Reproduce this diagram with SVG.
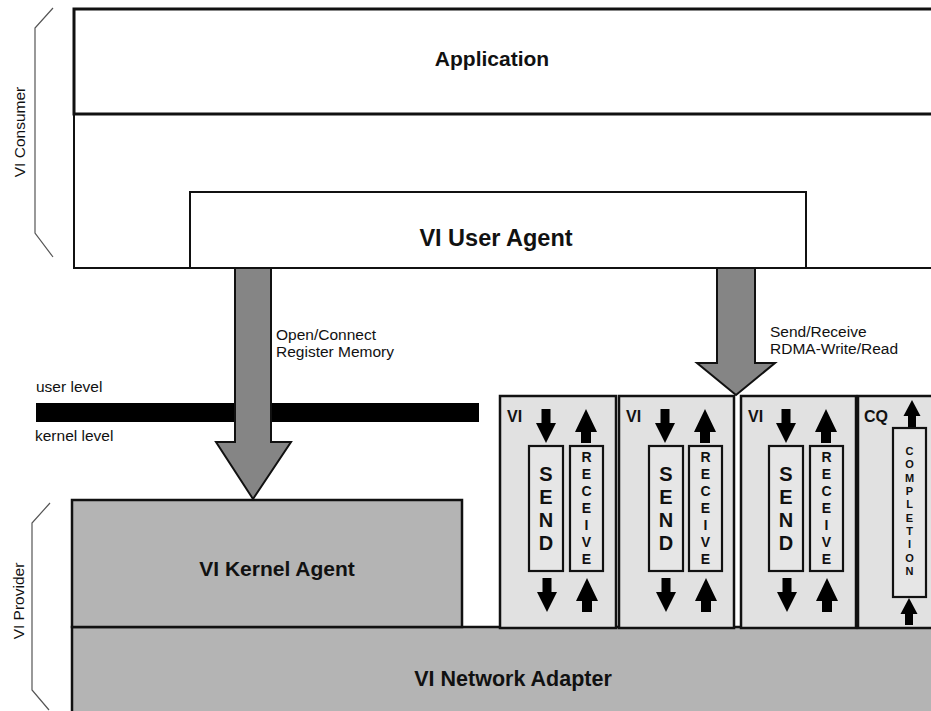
<svg xmlns="http://www.w3.org/2000/svg" width="931" height="711" viewBox="0 0 931 711">
  <style>
    .bold { font-family: "Liberation Sans", Arial, Helvetica, sans-serif; font-weight: bold; fill: #111; }
    .plain { font-family: "Liberation Sans", Arial, Helvetica, sans-serif; fill: #111; font-size: 15.5px; }
    .title { font-size: 21px; text-anchor: middle; }
    .frame { fill: #fff; stroke: #111; stroke-width: 2; }
    .gray { fill: #b4b4b4; stroke: #111; stroke-width: 2.5; }
    .vibox { fill: #e1e1e1; stroke: #111; stroke-width: 2.5; }
    .queue { fill: #e6e6e6; stroke: #111; stroke-width: 2.2; }
    .big-arrow { fill: #858585; stroke: #111; stroke-width: 2; stroke-linejoin: miter; }
    .brace { fill: none; stroke: #555; stroke-width: 1.2; }
    .q-send { font-size: 20px; text-anchor: middle; }
    .q-recv { font-size: 14px; text-anchor: middle; }
    .q-comp { font-size: 11px; text-anchor: middle; }
    .tag { font-size: 16px; }
  </style>
  <defs>
    <!-- small solid arrows used inside the VI columns -->
    <path id="arrowDown" d="M-4.5,0 H4.5 V14 H10 L0,34 L-10,14 H-4.5 Z" fill="#000"/>
    <path id="arrowUp" d="M0,0 L11,23 H5 V34 H-5 V23 H-11 Z" fill="#000"/>
    <path id="arrowUpSmall" d="M0,0 L8.5,16 H4 V27 H-4 V16 H-8.5 Z" fill="#000"/>
  </defs>

  <!-- side braces -->
  <g id="consumer-label">
    <polyline class="brace" points="53,8 35,28 35,233 53,257"/>
    <text class="plain" transform="translate(25,132) rotate(-90)" text-anchor="middle">VI Consumer</text>
  </g>
  <g id="provider-label">
    <polyline class="brace" points="50,503 32,523 32,690 49,710"/>
    <text class="plain" transform="translate(24,601) rotate(-90)" text-anchor="middle">VI Provider</text>
  </g>

  <!-- consumer area -->
  <g id="consumer">
    <rect class="frame" x="74" y="114" width="880" height="154"/>
  </g>
  <g id="application">
    <rect x="74" y="9" width="880" height="105" fill="#fff" stroke="#111" stroke-width="3"/>
    <text class="bold title" x="492" y="66">Application</text>
  </g>
  <g id="user-agent">
    <rect class="frame" x="190" y="192" width="616" height="76"/>
    <text class="bold title" x="496" y="246" style="font-size:23.5px">VI User Agent</text>
  </g>

  <!-- privilege boundary -->
  <g id="boundary">
    <rect x="36" y="403" width="443" height="19" fill="#000"/>
    <text class="plain" x="36" y="392">user level</text>
    <text class="plain" x="35" y="441">kernel level</text>
  </g>

  <!-- provider area -->
  <g id="network-adapter">
    <rect class="gray" x="72" y="627" width="880" height="100"/>
    <text class="bold title" x="513" y="686" style="font-size:21.5px">VI Network Adapter</text>
  </g>
  <g id="kernel-agent">
    <rect class="gray" x="72" y="500" width="390" height="127"/>
    <text class="bold title" x="277" y="576">VI Kernel Agent</text>
  </g>

  <!-- VI endpoints -->
  <g id="vi-1">
    <rect class="vibox" x="500" y="396" width="116" height="232"/>
    <text class="bold tag" x="507" y="422">VI</text>
    <use href="#arrowDown" x="546" y="409"/>
    <use href="#arrowUp" x="586" y="409"/>
    <rect class="queue" x="529" y="446" width="34" height="125"/>
    <text class="bold q-send"><tspan x="546" y="481">S</tspan><tspan x="546" y="504">E</tspan><tspan x="546" y="527">N</tspan><tspan x="546" y="550">D</tspan></text>
    <rect class="queue" x="570" y="446" width="33" height="125"/>
    <text class="bold q-recv"><tspan x="586.5" y="462">R</tspan><tspan x="586.5" y="479">E</tspan><tspan x="586.5" y="496">C</tspan><tspan x="586.5" y="513">E</tspan><tspan x="586.5" y="530">I</tspan><tspan x="586.5" y="547">V</tspan><tspan x="586.5" y="564">E</tspan></text>
    <use href="#arrowDown" x="547" y="578"/>
    <use href="#arrowUp" x="587" y="578"/>
  </g>
  <g id="vi-2">
    <rect class="vibox" x="619" y="396" width="115" height="232"/>
    <text class="bold tag" x="626" y="422">VI</text>
    <use href="#arrowDown" x="665" y="409"/>
    <use href="#arrowUp" x="705" y="409"/>
    <rect class="queue" x="649" y="446" width="34" height="125"/>
    <text class="bold q-send"><tspan x="666" y="481">S</tspan><tspan x="666" y="504">E</tspan><tspan x="666" y="527">N</tspan><tspan x="666" y="550">D</tspan></text>
    <rect class="queue" x="689" y="446" width="33" height="125"/>
    <text class="bold q-recv"><tspan x="705.5" y="462">R</tspan><tspan x="705.5" y="479">E</tspan><tspan x="705.5" y="496">C</tspan><tspan x="705.5" y="513">E</tspan><tspan x="705.5" y="530">I</tspan><tspan x="705.5" y="547">V</tspan><tspan x="705.5" y="564">E</tspan></text>
    <use href="#arrowDown" x="666" y="578"/>
    <use href="#arrowUp" x="706" y="578"/>
  </g>
  <g id="vi-3">
    <rect class="vibox" x="741" y="396" width="115" height="232"/>
    <text class="bold tag" x="748" y="422">VI</text>
    <use href="#arrowDown" x="786" y="409"/>
    <use href="#arrowUp" x="826" y="409"/>
    <rect class="queue" x="769" y="446" width="34" height="125"/>
    <text class="bold q-send"><tspan x="786" y="481">S</tspan><tspan x="786" y="504">E</tspan><tspan x="786" y="527">N</tspan><tspan x="786" y="550">D</tspan></text>
    <rect class="queue" x="810" y="446" width="33" height="125"/>
    <text class="bold q-recv"><tspan x="826.5" y="462">R</tspan><tspan x="826.5" y="479">E</tspan><tspan x="826.5" y="496">C</tspan><tspan x="826.5" y="513">E</tspan><tspan x="826.5" y="530">I</tspan><tspan x="826.5" y="547">V</tspan><tspan x="826.5" y="564">E</tspan></text>
    <use href="#arrowDown" x="787" y="578"/>
    <use href="#arrowUp" x="827" y="578"/>
  </g>

  <!-- completion queue -->
  <g id="cq">
    <rect class="vibox" x="858" y="396" width="90" height="232"/>
    <text class="bold tag" x="864" y="422">CQ</text>
    <use href="#arrowUpSmall" x="912" y="400"/>
    <rect class="queue" x="893" y="428" width="33" height="169"/>
    <text class="bold q-comp"><tspan x="909.5" y="455">C</tspan><tspan x="909.5" y="468">O</tspan><tspan x="909.5" y="482">M</tspan><tspan x="909.5" y="495">P</tspan><tspan x="909.5" y="508">L</tspan><tspan x="909.5" y="522">E</tspan><tspan x="909.5" y="535">T</tspan><tspan x="909.5" y="548">I</tspan><tspan x="909.5" y="562">O</tspan><tspan x="909.5" y="575">N</tspan></text>
    <use href="#arrowUpSmall" x="909" y="598"/>
  </g>

  <!-- connectors between user agent and provider -->
  <g id="connectors">
    <polygon class="big-arrow" points="235,268 271,268 271,442 291,442 253,499 216,442 235,442"/>
    <text class="plain" x="276" y="340">Open/Connect</text>
    <text class="plain" x="276" y="357">Register Memory</text>
    <polygon class="big-arrow" points="717,268 755,268 755,363 775,363 736,395 697,363 717,363"/>
    <text class="plain" x="770" y="337">Send/Receive</text>
    <text class="plain" x="770" y="354">RDMA-Write/Read</text>
  </g>
</svg>
